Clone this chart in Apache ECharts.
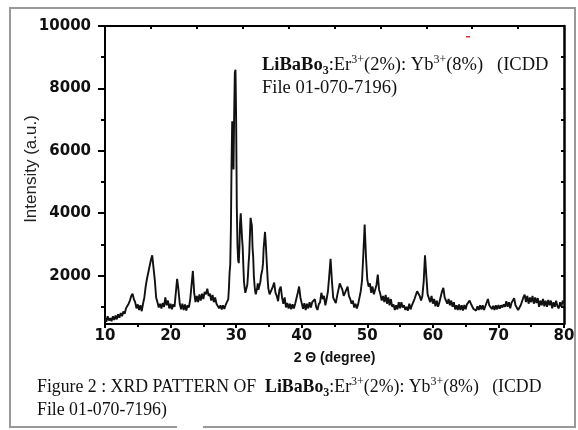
<!DOCTYPE html>
<html>
<head>
<meta charset="utf-8">
<script src="https://cdn.jsdelivr.net/npm/echarts@6/dist/echarts.min.js"></script>
<style>
    html, body { margin: 0; padding: 0; background: #fff; }
    #chart { width: 578px; height: 430px; }
</style>
</head>
<body>
<div id="chart"></div>
<script>
// scan data, [2theta, intensity]
var scanLow = [
    [10.0,650],[10.2,520],[10.4,700],[10.6,560],[10.8,640],[11.0,540],[11.2,700],[11.4,580],[11.6,720],[11.8,600],
    [12.0,760],[12.2,650],[12.4,800],[12.6,700],[12.8,850],[13.0,780],[13.2,950],[13.4,900],[13.6,1100],[13.8,1200],
    [14.0,1350],[14.2,1420],[14.4,1250],[14.6,1150],[14.8,950],[15.0,1080],[15.2,900],[15.4,1050],[15.6,860],[15.8,1100],
    [16.0,1300],[16.2,1650],[16.4,1900],[16.6,1850],[16.8,2300],[17.0,2500],[17.2,2650],[17.4,2250],[17.6,1850],[17.8,1300],
    [18.0,1150],[18.2,980],[18.4,1100],[18.6,950],[18.8,1120],[19.0,1000],[19.2,1300],[19.4,1050],[19.6,1200],[19.8,950],
    [20.0,1100],[20.2,920],[20.4,1080],[20.6,1000],[20.8,1450],[21.0,1900],[21.2,1550],[21.4,1100],[21.6,920],[21.8,1100],
    [22.0,900],[22.2,1080],[22.4,880],[22.6,1050],[22.8,980],[23.0,1250],[23.2,1700],[23.4,2150],[23.6,1450],[23.8,1150],
    [24.0,1350],[24.2,1150],[24.4,1400],[24.6,1200],[24.8,1420],[25.0,1250],[25.2,1480],[25.4,1400],[25.6,1580],[25.8,1350],
    [26.0,1420],[26.2,1200],[26.4,1380],[26.6,1150],[26.8,1300],[27.0,1100],[27.2,1150],[27.4,950],[27.6,1050],[27.8,920],
    [28.0,1050],[28.2,930],[28.4,1060],[28.6,1000],[28.8,1250]
];
var scanPeak = [
    [28.9,1600],[29.0,2100],[29.1,2350],[29.2,3500],[29.3,5600],[29.4,6950],[29.5,6500],[29.6,5400],[29.7,7200],[29.8,8500],
    [29.9,8600],[30.0,7000],[30.1,4200],[30.2,3000],[30.3,2500],[30.4,2400],[30.5,2900],[30.6,3700],[30.7,4000],[30.8,3600],
    [30.9,3200],[31.0,2900],[31.1,2300],[31.2,1800],[31.3,1600],[31.4,1450],[31.5,1500],[31.6,1400],[31.7,1700],[31.8,2000],
    [31.9,2400],[32.0,2700],[32.1,3300],[32.2,3850],[32.3,3900],[32.4,3600],[32.5,2900],[32.6,2600],[32.7,2000],[32.8,1700],
    [32.9,1500],[33.0,1400],[33.1,1450],[33.2,1600],[33.3,1750],[33.4,1550],[33.5,1500],[33.6,1600],[33.7,1800],[33.8,2000],
    [33.9,2100],[34.0,2200],[34.1,2400],[34.2,2900],[34.3,3150],[34.4,3400],[34.5,3100],[34.6,2700],[34.7,2300],[34.8,1900],
    [34.9,1600],[35.0,1500],[35.1,1400],[35.2,1350]
];
var scanHigh = [
    [35.4,1400],[35.6,1650],[35.8,1780],[36.0,1450],[36.2,1350],[36.4,1180],[36.6,1550],[36.8,1650],[37.0,1300],[37.2,1100],
    [37.4,1300],[37.6,980],[37.8,1120],[38.0,950],[38.2,1100],[38.4,920],[38.6,1080],[38.8,950],[39.0,1100],[39.2,1150],
    [39.4,1450],[39.6,1650],[39.8,1300],[40.0,1120],[40.2,940],[40.4,1120],[40.6,900],[40.8,1100],[41.0,950],[41.2,1150],
    [41.4,980],[41.6,1150],[41.8,1100],[42.0,1250],[42.2,1000],[42.4,900],[42.6,1080],[42.8,1150],[43.0,1450],[43.2,1250],
    [43.4,1350],[43.6,1050],[43.8,1250],[44.0,1500],[44.2,2000],[44.4,2540],[44.6,1850],[44.8,1300],[45.0,1300],[45.2,1120],
    [45.4,1350],[45.6,1400],[45.8,1750],[46.0,1650],[46.2,1550],[46.4,1350],[46.6,1450],[46.8,1500],[47.0,1650],[47.2,1350],
    [47.4,1250],[47.6,1100],[47.8,1200],[48.0,980],[48.2,1100],[48.4,950],[48.6,1080],[48.8,1100],[49.0,1500],[49.2,1850],
    [49.4,2700],[49.6,3640],[49.8,2600],[50.0,1870],[50.2,1650],[50.4,1750],[50.6,1450],[50.8,1650],[51.0,1400],[51.2,1550],
    [51.4,1700],[51.6,2030],[51.8,1550],[52.0,1400],[52.2,1200],[52.4,1350],[52.6,1150],[52.8,1380],[53.0,1100],[53.2,1300],
    [53.4,1050],[53.6,1250],[53.8,1000],[54.0,1080],[54.2,900],[54.4,1050],[54.6,920],[54.8,1150],[55.0,950],[55.2,1150],
    [55.4,980],[55.6,1050],[55.8,900],[56.0,1000],[56.2,880],[56.4,1100],[56.6,920],[56.8,1050],[57.0,1050],[57.2,1250],
    [57.4,1250],[57.6,1500],[57.8,1560],[58.0,1350],[58.2,1200],[58.4,1350],[58.6,1800],[58.8,2650],[59.0,2000],[59.2,1400],
    [59.4,1350],[59.6,1150],[59.8,1350],[60.0,1100],[60.2,1250],[60.4,1020],[60.6,1200],[60.8,1000],[61.0,1150],[61.2,1200],
    [61.4,1500],[61.6,1610],[61.8,1300],[62.0,1300],[62.2,1100],[62.4,1250],[62.6,1050],[62.8,1200],[63.0,1000],[63.2,1150],
    [63.4,920],[63.6,1050],[63.8,900],[64.0,1080],[64.2,900],[64.4,1050],[64.6,880],[64.8,1060],[65.0,920],[65.2,1080],
    [65.4,1050],[65.6,1200],[65.8,1100],[66.0,1100],[66.2,930],[66.4,980],[66.6,880],[66.8,1020],[67.0,900],[67.2,1050],
    [67.4,920],[67.6,1050],[67.8,900],[68.0,1020],[68.2,1000],[68.4,1250],[68.6,1050],[68.8,1020],[69.0,930],[69.2,1030],
    [69.4,900],[69.6,1050],[69.8,920],[70.0,1060],[70.2,940],[70.4,1050],[70.6,980],[70.8,1080],[71.0,1000],[71.2,1180],
    [71.4,1000],[71.6,1150],[71.8,950],[72.0,1130],[72.2,1080],[72.4,1280],[72.6,1050],[72.8,1080],[73.0,900],[73.2,850],
    [73.4,1050],[73.6,1100],[73.8,1300],[74.0,1390],[74.2,1150],[74.4,1350],[74.6,1100],[74.8,1300],[75.0,1150],[75.2,1350],
    [75.4,1100],[75.6,1300],[75.8,1120],[76.0,1280],[76.2,1000],[76.4,1200],[76.6,1050],[76.8,1250],[77.0,1020],[77.2,1200],
    [77.4,1000],[77.6,1220],[77.8,1050],[78.0,1200],[78.2,950],[78.4,1150],[78.6,1000],[78.8,1200],[79.0,1020],[79.2,950],
    [79.4,1150],[79.6,1000],[79.8,1200],[80.0,1100]
];

var yMajor = [2000, 4000, 6000, 8000, 10000];
var yMinor = [1000, 3000, 5000, 7000, 9000];
var yRight = [1000, 2000, 3000, 4000, 5000, 6000, 7000, 8000, 9000, 10000];
var xTop = [17, 24, 31, 38, 45, 52, 59, 66, 73];

var sampleText = '{b|LiBaBo}{bs|3}{n|:Er}{sup|3+}{n|(2%): Yb}{sup|3+}{n|(8%)   (ICDD}';
var fileText = 'File 01-070-7196)';

function richFor(size) {
    return {
        b: { fontFamily: 'Liberation Serif', fontSize: size, fontWeight: 'bold', lineHeight: 23, fill: '#111' },
        bs: { fontFamily: 'Liberation Serif', fontSize: 12, fontWeight: 'bold', lineHeight: 23, verticalAlign: 'bottom', fill: '#111' },
        n: { fontFamily: 'Liberation Serif', fontSize: size, lineHeight: 23, fill: '#111' },
        sup: { fontFamily: 'Liberation Serif', fontSize: 12, lineHeight: 23, verticalAlign: 'top', fill: '#111' }
    };
}

var myChart = echarts.init(document.getElementById('chart'));

var axisFont = { fontFamily: 'DejaVu Sans', fontWeight: 'bold', fontSize: 15, color: '#111' };

myChart.setOption({
    animation: false,
    grid: { left: 105, right: 14, top: 26, bottom: 106 },
    xAxis: [{
        type: 'value',
        min: 10,
        max: 80,
        interval: 10,
        position: 'bottom',
        name: '2 \u0398 (degree)',
        nameLocation: 'middle',
        nameGap: 27,
        nameTextStyle: { fontFamily: 'Liberation Sans', fontWeight: 'bold', fontSize: 14, color: '#111' },
        axisLine: { lineStyle: { color: '#000', width: 2 } },
        axisTick: { length: 4, lineStyle: { color: '#000', width: 2 } },
        minorTick: { show: true, splitNumber: 2, length: 3, lineStyle: { color: '#000', width: 2 } },
        axisLabel: Object.assign({ margin: 5 }, axisFont),
        splitLine: { show: false }
    }, {
        type: 'value',
        min: 10,
        max: 80,
        position: 'top',
        axisLine: { lineStyle: { color: '#000', width: 2 } },
        axisTick: { inside: true, length: 3, customValues: xTop, lineStyle: { color: '#000', width: 2 } },
        axisLabel: { show: false },
        splitLine: { show: false }
    }],
    yAxis: [{
        type: 'value',
        min: 450,
        max: 10000,
        position: 'left',
        axisLine: { show: true, lineStyle: { color: '#000', width: 2 } },
        axisTick: { show: true, length: 7, customValues: yMajor, lineStyle: { color: '#000', width: 2 } },
        axisLabel: Object.assign({
            margin: 14,
            customValues: yMajor,
            formatter: function (v) { return String(v); }
        }, axisFont),
        splitLine: { show: false }
    }, {
        type: 'value',
        min: 450,
        max: 10000,
        position: 'left',
        axisLine: { show: false },
        axisTick: { show: true, length: 4, customValues: yMinor, lineStyle: { color: '#000', width: 2 } },
        axisLabel: { show: false },
        splitLine: { show: false }
    }, {
        type: 'value',
        min: 450,
        max: 10000,
        position: 'right',
        axisLine: { show: true, lineStyle: { color: '#000', width: 2.5 } },
        axisTick: { show: true, inside: true, length: 3, customValues: yRight, lineStyle: { color: '#000', width: 2 } },
        axisLabel: { show: false },
        splitLine: { show: false }
    }],
    series: [{
        type: 'line',
        xAxisIndex: 0,
        yAxisIndex: 0,
        data: scanLow.concat(scanPeak, scanHigh),
        showSymbol: false,
        lineStyle: { color: '#111', width: 1.9 },
        silent: true
    }],
    graphic: [
        {
            type: 'rect',
            shape: { x: 10, y: 8, width: 565, height: 419 },
            style: { fill: 'none', stroke: '#999', lineWidth: 2 }
        },
        {
            type: 'rect',
            shape: { x: 177, y: 424, width: 26, height: 6 },
            style: { fill: '#fff' }
        },
        {
            type: 'rect',
            shape: { x: 466, y: 36, width: 4, height: 1.5 },
            style: { fill: '#e03030' }
        },
        {
            type: 'text',
            x: 31,
            y: 169,
            rotation: Math.PI / 2,
            style: {
                text: 'Intensity (a.u.)',
                font: '17px "Liberation Sans"',
                fill: '#222',
                align: 'center',
                verticalAlign: 'middle'
            }
        },
        {
            type: 'text',
            left: 262,
            top: 54,
            style: {
                text: sampleText + '\n{n|' + fileText + '}',
                rich: richFor(18.5)
            }
        },
        {
            type: 'text',
            left: 37,
            top: 376,
            style: {
                text: '{n|Figure 2 : XRD PATTERN OF  }' + sampleText + '\n{n|' + fileText + '}',
                rich: richFor(17.8)
            }
        }
    ]
});
</script>
</body>
</html>
